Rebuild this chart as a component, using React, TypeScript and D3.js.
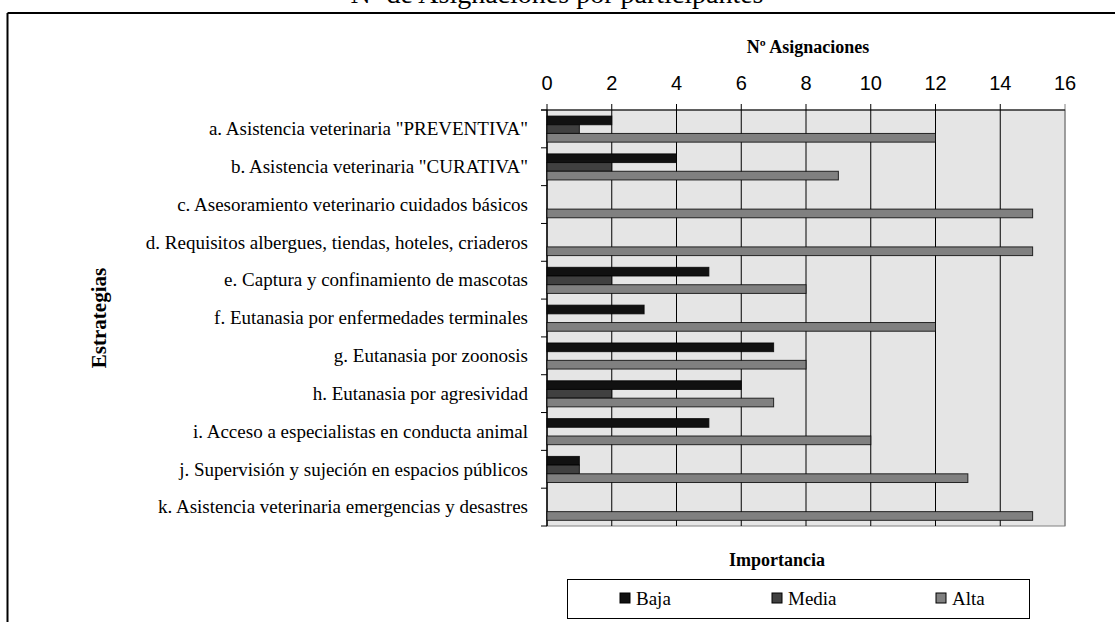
import React from "react";
import * as d3 from "d3";

const categories = [
  'a. Asistencia veterinaria "PREVENTIVA"',
  'b. Asistencia veterinaria "CURATIVA"',
  "c. Asesoramiento veterinario cuidados básicos",
  "d. Requisitos albergues, tiendas, hoteles, criaderos",
  "e. Captura y confinamiento de mascotas",
  "f. Eutanasia por enfermedades terminales",
  "g. Eutanasia por zoonosis",
  "h. Eutanasia por agresividad",
  "i. Acceso a especialistas en conducta animal",
  "j. Supervisión y sujeción en espacios públicos",
  "k. Asistencia veterinaria emergencias y desastres",
];
const seriesNames = ["Baja", "Media", "Alta"];
const baja = [2, 4, 0, 0, 5, 3, 7, 6, 5, 1, 0];
const media = [1, 2, 0, 0, 2, 0, 0, 2, 0, 1, 0];
const alta = [12, 9, 15, 15, 8, 12, 8, 7, 10, 13, 15];
const xTicks = [0, 2, 4, 6, 8, 10, 12, 14, 16];
const seriesColors = ["#111111", "#404040", "#808080"];

const W = 1115;
const H = 622;
const serif = "'Liberation Serif', 'Times New Roman', serif";
const sans = "'Liberation Sans', Arial, sans-serif";

export default function App() {
  const left = 547, right = 1065, top = 110, bottom = 526;
  const x = d3.scaleLinear().domain([0, 16]).range([left, right]);
  const y = d3.scaleBand<string>().domain(categories).range([top, bottom]).paddingInner(0).paddingOuter(0);
  const bw = y.bandwidth();
  const inner = d3.scaleBand<string>().domain(seriesNames).range([bw * 0.16, bw * 0.85]);
  const values = [baja, media, alta];

  return (
    <svg width={W} height={H} style={{ position: "absolute", left: 0, top: 0, background: "#fff" }}>
      <text x={557} y={3} textAnchor="middle" fontFamily={serif} fontSize={28} fill="#000">
        Nº de Asignaciones por participantes
      </text>
      {/* outer frame */}
      <line x1={7.5} y1={13} x2={W} y2={13} stroke="#000" strokeWidth={2} />
      <line x1={7.5} y1={13} x2={7.5} y2={H} stroke="#000" strokeWidth={2} />

      {/* plot area */}
      <rect x={left} y={top} width={right - left} height={bottom - top} fill="#e5e5e5" stroke="#808080" strokeWidth={1} />
      {xTicks.map((t) => (
        <line key={"g" + t} x1={x(t)} x2={x(t)} y1={top - 6} y2={bottom} stroke={t === 16 ? "#808080" : "#000"} strokeWidth={1} />
      ))}
      <line x1={left - 6} x2={right} y1={top} y2={top} stroke="#000" strokeWidth={1} />
      <line x1={left} x2={left} y1={top} y2={bottom} stroke="#000" strokeWidth={1} />
      {categories.map((c, i) => (
        <line key={"ct" + i} x1={left - 6} x2={left} y1={(y(c) as number)} y2={(y(c) as number)} stroke="#000" />
      ))}
      <line x1={left - 6} x2={left} y1={bottom} y2={bottom} stroke="#000" />

      {/* bars */}
      {categories.map((c, i) =>
        seriesNames.map((s, j) => {
          const v = values[j][i];
          if (!v) return null;
          return (
            <rect
              key={c + s}
              x={x(0)}
              y={(y(c) as number) + (inner(s) as number)}
              width={x(v) - x(0)}
              height={inner.bandwidth()}
              fill={seriesColors[j]}
              stroke="#000"
              strokeWidth={1}
              strokeOpacity={0.8}
            />
          );
        })
      )}

      {/* x tick labels */}
      {xTicks.map((t) => (
        <text key={"xl" + t} x={x(t)} y={90} textAnchor="middle" fontFamily={sans} fontSize={20} fill="#000">
          {t}
        </text>
      ))}
      <text x={808} y={53} textAnchor="middle" fontFamily={serif} fontWeight="bold" fontSize={18} fill="#000">
        Nº Asignaciones
      </text>

      {/* category labels */}
      {categories.map((c) => (
        <text key={"cl" + c} x={528} y={(y(c) as number) + bw / 2} dy="0.33em" textAnchor="end" fontFamily={serif} fontSize={19} fill="#000">
          {c}
        </text>
      ))}
      <text transform={`translate(106,318) rotate(-90)`} textAnchor="middle" fontFamily={serif} fontWeight="bold" fontSize={21} fill="#000">
        Estrategias
      </text>

      <text x={777} y={566} textAnchor="middle" fontFamily={serif} fontWeight="bold" fontSize={18} fill="#000">
        Importancia
      </text>

      {/* legend */}
      <rect x={567.5} y={579.5} width={462} height={39} fill="#fff" stroke="#000" strokeWidth={1} />
      {seriesNames.map((s, j) => {
        const lx = [620, 772, 936][j];
        return (
          <g key={"lg" + s}>
            <rect x={lx} y={593} width={10} height={10} fill={seriesColors[j]} stroke="#000" strokeWidth={1} />
            <text x={lx + 16} y={605} fontFamily={serif} fontSize={19} fill="#000">
              {s}
            </text>
          </g>
        );
      })}
    </svg>
  );
}
